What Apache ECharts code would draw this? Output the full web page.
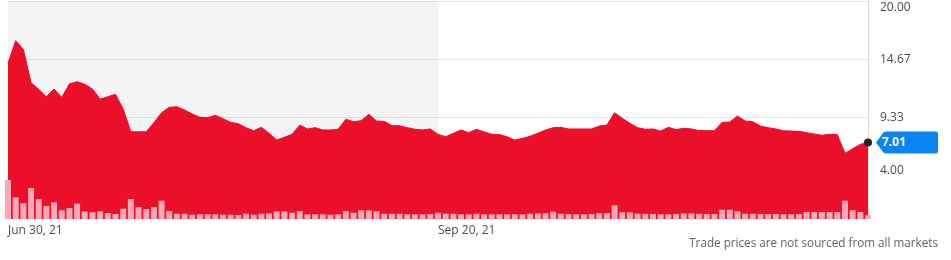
<!DOCTYPE html>
<html><head><meta charset="utf-8">
<script src="https://cdn.jsdelivr.net/npm/echarts@6/dist/echarts.min.js"></script>
<style>html,body{margin:0;padding:0;background:#fff;}#c{width:951px;height:260px;}</style>
</head><body><div id="c"></div>
<script>
const dates = [
'Jun 30, 21',
'Jul 01, 21','Jul 02, 21','Jul 06, 21','Jul 07, 21','Jul 08, 21','Jul 09, 21','Jul 12, 21','Jul 13, 21','Jul 14, 21','Jul 15, 21','Jul 16, 21','Jul 19, 21','Jul 20, 21','Jul 21, 21','Jul 22, 21','Jul 23, 21','Jul 26, 21','Jul 27, 21','Jul 28, 21','Jul 29, 21','Jul 30, 21',
'Aug 02, 21','Aug 03, 21','Aug 04, 21','Aug 05, 21','Aug 06, 21','Aug 09, 21','Aug 10, 21','Aug 11, 21','Aug 12, 21','Aug 13, 21','Aug 16, 21','Aug 17, 21','Aug 18, 21','Aug 19, 21','Aug 20, 21','Aug 23, 21','Aug 24, 21','Aug 25, 21','Aug 26, 21','Aug 27, 21','Aug 30, 21','Aug 31, 21',
'Sep 01, 21','Sep 02, 21','Sep 03, 21','Sep 07, 21','Sep 08, 21','Sep 09, 21','Sep 10, 21','Sep 13, 21','Sep 14, 21','Sep 15, 21','Sep 16, 21','Sep 17, 21','Sep 20, 21','Sep 21, 21','Sep 22, 21','Sep 23, 21','Sep 24, 21','Sep 27, 21','Sep 28, 21','Sep 29, 21','Sep 30, 21',
'Oct 01, 21','Oct 04, 21','Oct 05, 21','Oct 06, 21','Oct 07, 21','Oct 08, 21','Oct 11, 21','Oct 12, 21','Oct 13, 21','Oct 14, 21','Oct 15, 21','Oct 18, 21','Oct 19, 21','Oct 20, 21','Oct 21, 21','Oct 22, 21','Oct 25, 21','Oct 26, 21','Oct 27, 21','Oct 28, 21','Oct 29, 21',
'Nov 01, 21','Nov 02, 21','Nov 03, 21','Nov 04, 21','Nov 05, 21','Nov 08, 21','Nov 09, 21','Nov 10, 21','Nov 11, 21','Nov 12, 21','Nov 15, 21','Nov 16, 21','Nov 17, 21','Nov 18, 21','Nov 19, 21','Nov 22, 21','Nov 23, 21','Nov 24, 21','Nov 26, 21','Nov 29, 21','Nov 30, 21',
'Dec 01, 21','Dec 02, 21','Dec 03, 21','Dec 06, 21','Dec 07, 21','Dec 08, 21'
];
const prices = [
14.28,16.36,15.57,12.50,11.90,11.22,11.93,11.16,12.39,12.60,
12.36,11.93,11.00,11.22,11.44,10.09,8.00,8.00,8.00,8.84,
9.75,10.25,10.30,10.00,9.63,9.33,9.30,9.51,9.20,8.87,
8.74,8.38,8.10,8.41,7.86,7.25,7.50,7.77,8.62,8.26,
8.38,8.17,8.17,8.23,9.15,8.93,9.02,9.60,8.99,8.96,
8.56,8.56,8.38,8.23,8.17,8.26,7.77,7.55,7.86,8.17,
7.92,8.23,8.00,7.77,7.75,7.55,7.25,7.40,7.60,7.86,
8.17,8.38,8.41,8.26,8.26,8.26,8.26,8.53,8.62,9.75,
9.24,8.78,8.38,8.23,8.26,8.07,8.41,8.20,8.32,8.26,
8.12,8.10,8.10,8.87,8.90,9.45,8.99,8.93,8.53,8.38,
8.26,8.10,8.07,8.04,7.92,7.80,7.68,7.77,7.75,6.03,
6.45,6.85,7.01
];
const volumes = [
39.0,21.7,15.7,31.0,19.7,13.0,16.7,8.7,11.0,15.3,
7.7,6.7,7.7,6.0,5.0,10.3,20.0,12.0,10.0,12.0,
18.3,8.0,5.3,5.3,4.3,4.7,4.7,4.7,4.3,4.3,
4.0,5.3,4.3,5.3,5.7,7.7,7.7,6.3,8.0,4.7,
4.7,4.7,4.3,4.7,8.0,6.3,8.7,8.7,7.7,5.3,
5.3,5.3,4.7,4.7,4.7,5.0,6.3,5.3,5.3,4.7,
4.7,5.3,4.7,4.7,4.7,4.7,4.7,4.7,5.3,5.7,
5.7,7.3,5.3,5.0,4.7,4.7,5.0,6.0,6.0,13.7,
6.7,6.7,5.3,5.3,5.0,4.7,4.7,5.0,5.7,5.7,
5.3,5.0,5.0,9.3,9.3,7.7,5.3,5.3,5.0,5.0,
5.0,4.7,4.7,5.0,7.0,7.0,7.0,7.0,7.0,18.3,
8.7,7.0,3.7
];
const yTickLabels = ['4.00','9.33','14.67','20.00'];
const xLabelDates = ['Jun 30, 21','Sep 20, 21'];
const shadedRange = ['Jun 30, 21','Sep 20, 21'];
const lastPrice = 7.01;
const footnote = 'Trade prices are not sourced from all markets';

const FONT = '"Open Sans", sans-serif';
const RED = '#eb0f29';
const gridLine = '#e6e6e6';
const splitColors = [];
for (let i = 0; i < 16; i++) splitColors.push(i % 4 === 3 ? gridLine : 'rgba(0,0,0,0)');
const last = dates.length - 1;

const chart = echarts.init(document.getElementById('c'), null, {renderer: 'canvas'});
chart.setOption({
  animation: false,
  backgroundColor: '#fff',
  title: {
    text: footnote, right: 13, top: 238, padding: 0,
    textStyle: {fontSize: 11.7, fontWeight: 'normal', color: '#5b636a', fontFamily: FONT}
  },
  grid: [
    {left: 8, right: 83, top: 1, bottom: 41},
    {left: 8, right: 83, top: 179, bottom: 41}
  ],
  xAxis: [
    {type: 'category', gridIndex: 0, data: dates, boundaryGap: false, show: false},
    {type: 'category', gridIndex: 1, data: dates, boundaryGap: false,
     axisLine: {show: false}, axisTick: {show: false}, splitLine: {show: false},
     axisLabel: {
       interval: function (i, v) { return xLabelDates.indexOf(v) >= 0; },
       align: 'left', margin: 6, color: '#464e56', fontSize: 12, fontFamily: FONT
     }}
  ],
  yAxis: [
    {type: 'value', gridIndex: 0, position: 'right', min: 0, max: 20, interval: 4 / 3,
     axisLine: {show: true, lineStyle: {color: '#d9d9d9'}},
     axisTick: {show: false},
     splitLine: {show: true, lineStyle: {color: splitColors, width: 1}},
     axisLabel: {
       margin: 12, color: '#464e56', fontSize: 12, fontFamily: FONT,
       formatter: function (v) {
         const k = Math.round(v * 3 / 4);
         if (k % 4 !== 3) return '';
         const s = yTickLabels[(k - 3) / 4];
         if (k === 15) return '{top|' + s + '}';
         if (k === 3) return '{low|' + s + '}';
         return s;
       },
       rich: {
         top: {padding: [14, 0, 0, 0], color: '#464e56', fontSize: 12, fontFamily: FONT},
         low: {padding: [0, 0, 10, 0], color: '#464e56', fontSize: 12, fontFamily: FONT}
       }
     }},
    {type: 'value', gridIndex: 1, min: 0, max: 40, show: false}
  ],
  series: [
    {
      type: 'line', xAxisIndex: 0, yAxisIndex: 0, data: prices, z: 1,
      symbol: 'none', lineStyle: {opacity: 0}, silent: true,
      markArea: {
        silent: true,
        itemStyle: {color: 'rgba(0,0,0,0.045)'},
        data: [[{xAxis: dates.indexOf(shadedRange[0])}, {xAxis: dates.indexOf(shadedRange[1])}]]
      }
    },
    {
      type: 'line', xAxisIndex: 0, yAxisIndex: 0, data: prices, z: 2,
      symbol: 'none',
      lineStyle: {color: RED, width: 1},
      areaStyle: {color: RED, opacity: 1},
      markPoint: {
        silent: true,
        data: [
          {
            coord: [last, lastPrice],
            symbol: 'path://M0,11 L7,1.5 Q8,0 10,0 L60,0 Q62,0 62,2 L62,20 Q62,22 60,22 L10,22 Q8,22 7,20.5 Z',
            symbolSize: [62, 22], symbolKeepAspect: false, symbolOffset: [39, 0],
            itemStyle: {color: '#0a84f0'},
            label: {show: true, formatter: lastPrice.toFixed(2), position: [6, 11],
                    align: 'left', verticalAlign: 'middle', color: '#fff',
                    fontWeight: 'bold', fontSize: 12, fontFamily: FONT}
          },
          {
            coord: [last, lastPrice], symbol: 'circle', symbolSize: 8,
            itemStyle: {color: '#222'}, label: {show: false}
          }
        ]
      }
    },
    {
      type: 'bar', xAxisIndex: 1, yAxisIndex: 1, data: volumes, z: 3,
      barWidth: 6, itemStyle: {color: '#f8a8b6'}, silent: true, clip: true
    }
  ]
});
</script>
</body></html>
